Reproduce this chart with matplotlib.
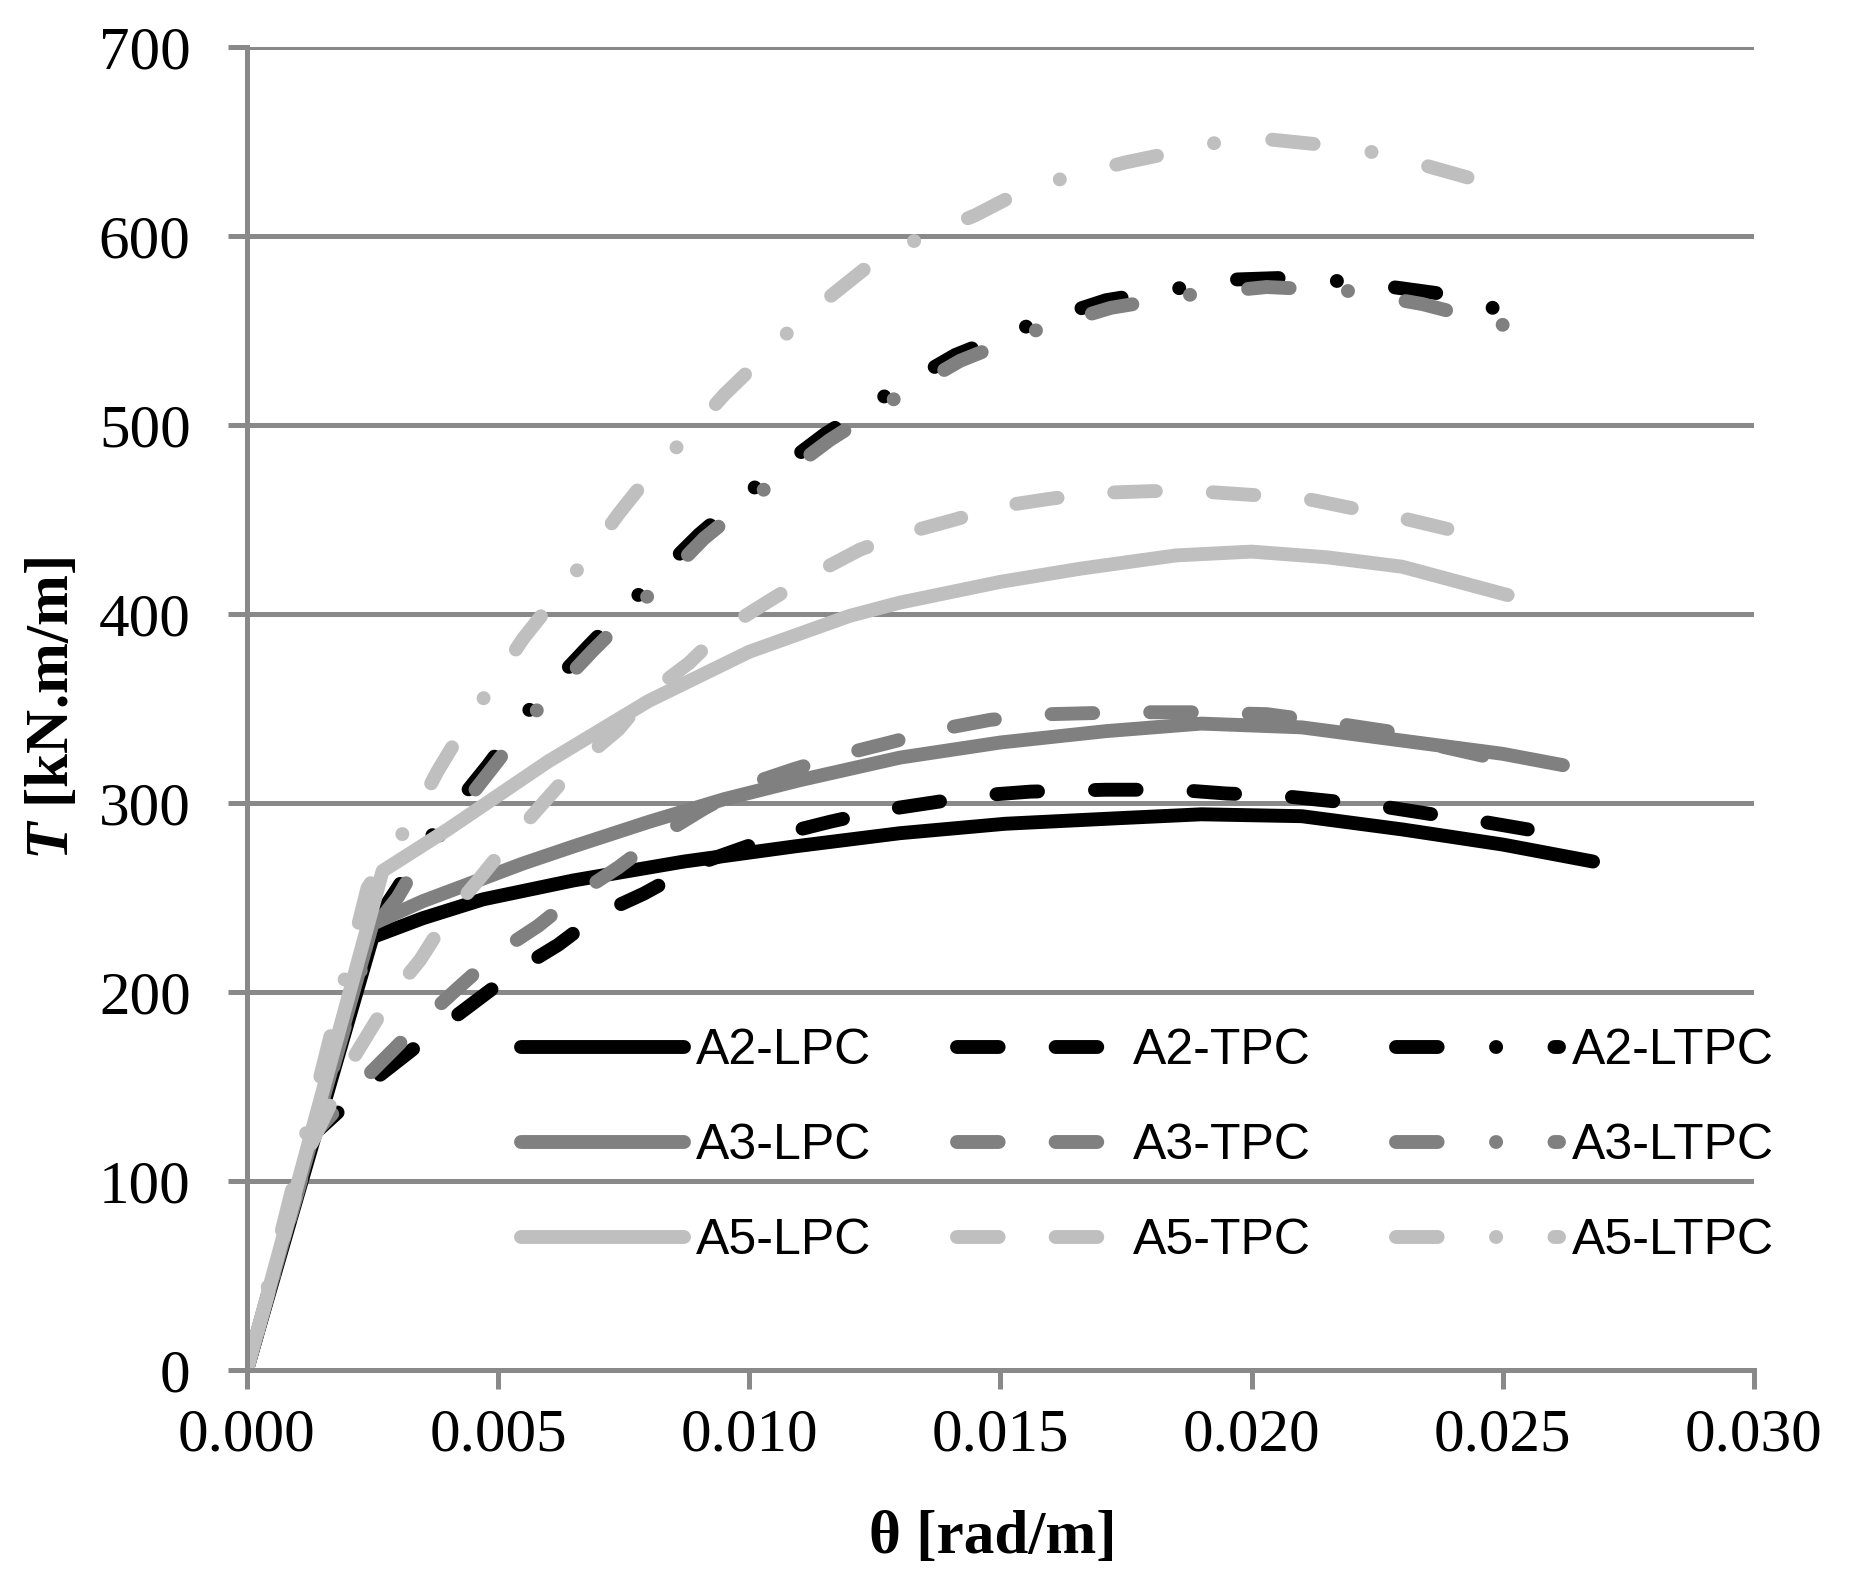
import matplotlib
matplotlib.use("Agg")
import matplotlib.pyplot as plt
import numpy as np

plt.rcParams['mathtext.fontset'] = 'custom'
plt.rcParams['mathtext.it'] = 'Liberation Serif:italic:bold'
plt.rcParams['mathtext.rm'] = 'Liberation Serif:bold'

# ---- data (theta [rad/m], T [kN.m/m]) ----
theta_A2_LPC = [0, 0.0025, 0.0035, 0.0047, 0.0065, 0.0087, 0.0109, 0.0130, 0.0151, 0.0174, 0.0190, 0.0210, 0.0230, 0.0250, 0.0268]
T_A2_LPC = [0, 229, 239, 249, 259, 269, 277, 284, 289, 292, 294, 293, 286, 278, 269]

theta_A2_TPC = [0, 0.0013, 0.0025, 0.0038, 0.0045, 0.0054, 0.0062, 0.0070, 0.0079, 0.0090, 0.0107, 0.0116, 0.0126, 0.0136, 0.0146, 0.0156, 0.0171, 0.0185, 0.0195, 0.0205, 0.0216, 0.0224, 0.0236, 0.0244, 0.0255]
T_A2_TPC = [0, 124, 153, 180, 194, 212, 225, 241, 252, 268, 284, 290, 296, 300, 304, 306, 307, 307, 305, 304, 301, 299, 294, 291, 286]

theta_A2_LTPC = [0, 0.0025, 0.0030, 0.0034, 0.0038, 0.0048, 0.0057, 0.0068, 0.0079, 0.0090, 0.0102, 0.0115, 0.0128, 0.0141, 0.0156, 0.0171, 0.0187, 0.0197, 0.0208, 0.0218, 0.0228, 0.0239, 0.0248]
T_A2_LTPC = [0, 235, 255, 272, 287, 320, 352, 383, 413, 442, 469, 495, 517, 537, 553, 566, 573, 577, 578, 576, 573, 569, 562]

theta_A3_LPC = [0, 0.0025, 0.0035, 0.0045, 0.0055, 0.0065, 0.0080, 0.0095, 0.0110, 0.0130, 0.0150, 0.0171, 0.0190, 0.0210, 0.0230, 0.0250, 0.0262]
T_A3_LPC = [0, 236, 248, 258, 268, 277, 290, 302, 312, 324, 332, 338, 342, 340, 333, 326, 320]

theta_A3_TPC = [0, 0.0013, 0.00245, 0.0035, 0.0042, 0.0050, 0.0058, 0.0066, 0.0074, 0.0083, 0.0091, 0.0100, 0.0109, 0.0119, 0.0128, 0.0138, 0.0148, 0.0160, 0.0175, 0.0188, 0.0203, 0.0217, 0.0227, 0.0236, 0.0246]
T_A3_TPC = [0, 124, 157, 185, 202, 221, 235, 252, 266, 284, 297, 310, 318, 326, 332, 339, 344, 347, 348, 348, 347, 342, 338, 331, 325]

theta_A3_LTPC = [0, 0.0025, 0.0030, 0.0034, 0.0039, 0.0049, 0.0058, 0.0069, 0.0080, 0.0091, 0.0103, 0.0116, 0.0129, 0.0142, 0.0157, 0.0172, 0.0188, 0.0203, 0.0219, 0.0234, 0.0250]
T_A3_LTPC = [0, 233, 250, 268, 285, 319, 350, 381, 410, 440, 466, 492, 514, 534, 550, 562, 569, 573, 571, 564, 553]

theta_A5_LPC = [0, 0.0027, 0.0040, 0.0060, 0.0080, 0.0100, 0.0120, 0.0130, 0.0150, 0.0166, 0.0185, 0.0200, 0.0215, 0.0230, 0.0251]
T_A5_LPC = [0, 264, 286, 322, 354, 380, 399, 406, 417, 424, 431, 433, 430, 425, 410]

theta_A5_TPC = [0, 0.0012, 0.00205, 0.0029, 0.00345, 0.0040, 0.0046, 0.0053, 0.0059, 0.0066, 0.0074, 0.0080, 0.0088, 0.0095, 0.0104, 0.0112, 0.0122, 0.0130, 0.0141, 0.0150, 0.0160, 0.0169, 0.0180, 0.0189, 0.0200, 0.0209, 0.0220, 0.0228, 0.0239]
T_A5_TPC = [0, 115, 162, 199, 217, 240, 259, 282, 300, 321, 339, 358, 374, 392, 407, 420, 434, 442, 450, 457, 461, 464, 465, 465, 463, 462, 456, 452, 445]

theta_A5_LTPC = [0, 0.0024, 0.0033, 0.0038, 0.0043, 0.0049, 0.0055, 0.0061, 0.0068, 0.0074, 0.0080, 0.0088, 0.0095, 0.0102, 0.0110, 0.0118, 0.0126, 0.0135, 0.0145, 0.0153, 0.0163, 0.0175, 0.0184, 0.0194, 0.0204, 0.0215, 0.0225, 0.0235, 0.0243]
T_A5_LTPC = [0, 255, 292, 317, 339, 363, 387, 407, 431, 453, 473, 495, 516, 534, 555, 572, 589, 600, 611, 622, 631, 639, 644, 650, 651, 648, 644, 637, 631]

series_names = ["A2-LPC", "A2-TPC", "A2-LTPC",
                "A3-LPC", "A3-TPC", "A3-LTPC",
                "A5-LPC", "A5-TPC", "A5-LTPC"]
series_x = [theta_A2_LPC, theta_A2_TPC, theta_A2_LTPC,
            theta_A3_LPC, theta_A3_TPC, theta_A3_LTPC,
            theta_A5_LPC, theta_A5_TPC, theta_A5_LTPC]
series_y = [T_A2_LPC, T_A2_TPC, T_A2_LTPC,
            T_A3_LPC, T_A3_TPC, T_A3_LTPC,
            T_A5_LPC, T_A5_TPC, T_A5_LTPC]

x_ticks = [0.000, 0.005, 0.010, 0.015, 0.020, 0.025, 0.030]
y_ticks = [0, 100, 200, 300, 400, 500, 600, 700]

# ---- styles ----
colors = {"A2": "#000000", "A3": "#808080", "A5": "#BFBFBF"}
DASH = (3.0, 4.1)
DASHDOT = (3.0, 4.2, 0.01, 4.2)
# where along the pattern the line should end (in linewidth units)
DOT_END = DASHDOT[0] + DASHDOT[1] + 0.005
end_phase = {"A2-TPC": DASH[0] - 0.05, "A3-TPC": DASH[0] - 0.05, "A5-TPC": DASH[0] - 0.05,
             "A2-LTPC": DOT_END, "A3-LTPC": DOT_END,
             "A5-LTPC": DASHDOT[0] - 0.05}
grid_c = "#898989"
LW = 10
DPI = 100

fig = plt.figure(figsize=(18.51, 15.83), dpi=DPI)
ax = fig.add_axes([0.1334, 0.1346, 0.9475 - 0.1334, 0.9703 - 0.1346])
ax.set_xlim(0, 0.030)
ax.set_ylim(0, 700)

handles = {}
for name, xs, ys in zip(series_names, series_x, series_y):
    grp, kind = name.split("-")
    if kind == "LPC":
        ls = "-"
    else:
        pat = DASH if kind == "TPC" else DASHDOT
        period = sum(pat)
        pts = ax.transData.transform(np.column_stack([xs, ys]))
        L_px = np.sum(np.hypot(np.diff(pts[:, 0]), np.diff(pts[:, 1])))
        L_u = L_px * 72.0 / DPI / LW
        off = (end_phase[name] - L_u) % period
        ls = (off, pat)
    ln, = ax.plot(xs, ys, color=colors[grp], linestyle=ls, lw=LW,
                  solid_capstyle='round', dash_capstyle='round',
                  solid_joinstyle='round', dash_joinstyle='round', label=name)
    handles[name] = ln

ax.set_xticks(x_ticks)
ax.set_yticks(y_ticks)
ax.set_xticklabels([f"{v:.3f}" for v in x_ticks])
ax.set_yticklabels([str(v) for v in y_ticks])

ax.yaxis.grid(True, color=grid_c, lw=3.6, zorder=0)
ax.set_axisbelow(True)
for s in ["top", "right"]:
    ax.spines[s].set_visible(False)
for s in ["left", "bottom"]:
    ax.spines[s].set_color(grid_c)
    ax.spines[s].set_linewidth(3.6)

ax.tick_params(axis='both', direction='out', length=13.5, width=3.6, color=grid_c)
ax.tick_params(axis='y', pad=27)
ax.tick_params(axis='x', pad=14)
for lab in ax.get_xticklabels() + ax.get_yticklabels():
    lab.set_fontfamily("Liberation Serif")
    lab.set_fontsize(44)

ax.set_xlabel("θ [rad/m]", fontfamily="Liberation Serif", fontweight="bold",
              fontsize=44, va="center")
ax.xaxis.set_label_coords(0.495, -0.127)
ax.set_ylabel(r"$T$ [kN.m/m]", fontfamily="Liberation Serif", fontweight="bold",
              fontsize=44, va="center")
ax.yaxis.set_label_coords(-0.129, 0.5)

order = ["A2-LPC", "A3-LPC", "A5-LPC", "A2-TPC", "A3-TPC", "A5-TPC",
         "A2-LTPC", "A3-LTPC", "A5-LTPC"]
leg_handles = []
for n in order:
    h = handles[n]
    kind = n.split("-")[1]
    ls = "-" if kind == "LPC" else (0, DASH if kind == "TPC" else DASHDOT)
    proxy = plt.Line2D([], [], color=h.get_color(), lw=LW, linestyle=ls,
                       solid_capstyle='round', dash_capstyle='round')
    leg_handles.append(proxy)
leg = fig.legend(leg_handles, order, loc="center left",
                 bbox_to_anchor=(0.268, 0.276), ncol=3, frameon=False,
                 prop={"family": "Liberation Sans", "size": 36},
                 handlelength=3.25, handletextpad=0.25, columnspacing=1.72,
                 labelspacing=0.98, borderpad=0)

fig.savefig("out.png", dpi=DPI)
